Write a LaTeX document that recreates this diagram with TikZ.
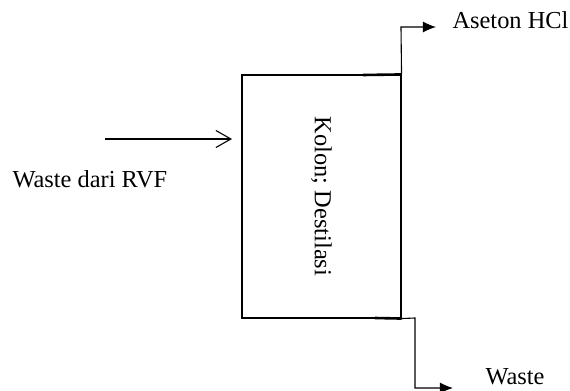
\documentclass[tikz,border=0pt]{standalone}
\usepackage{fontspec}
\setmainfont{Liberation Serif}
\usetikzlibrary{arrows.meta}

\begin{document}
\begin{tikzpicture}[x=0.5pt,y=-0.5pt,font=\fontsize{12.2}{14}\selectfont]

        % Stile globale
        \tikzset{every path/.style={line width=0.55pt},
                 aliran/.style={-{Latex[length=6.5pt,width=5.5pt]}},
                 masuk/.style={-{Straight Barb[length=7.5pt,width=8.5pt,line width=0.55pt]}},
                 tebal/.style={line width=1.3pt},
                 label/.style={anchor=base west, inner sep=0pt}}

        % Batas gambar
        \useasboundingbox (0,0) rectangle (570,391);

        % Kolom distilasi
        \node[draw, minimum width=79.5pt, minimum height=121.5pt, inner sep=0pt]
            (kolon) at (321.5,196.5) {};
        \node[rotate=-90] (nama) at (kolon.center) {Kolon; Destilasi};

        % Garis tebal pada sambungan keluaran
        \draw[tebal] (363,75) -- (kolon.north east);
        \draw[tebal] (375,318) -- (kolon.south east);

        % Umpan masuk
        \coordinate (umpan) at (105,139);
        \coordinate (ujung) at (232,139);
        \draw[masuk] (umpan) -- (ujung);
        \node[label] (lumpan) at (12,188) {Waste dari RVF};

        % Produk atas
        \node[label] (latas) at (452,28) {Aseton HCl};
        \coordinate (atas) at (401,27);
        \coordinate (tatas) at (436,27);
        \draw[aliran] (kolon.north east) -- (atas) -- (tatas);

        % Produk bawah
        \node[label] (lbawah) at (485,385) {Waste};
        \coordinate (sudut) at (415,318);
        \coordinate (bawah) at (415,388);
        \coordinate (tbawah) at (453,388);
        \draw[aliran] (kolon.south east) -- (sudut) -- (bawah) -- (tbawah);

    \end{tikzpicture}
\end{document}
